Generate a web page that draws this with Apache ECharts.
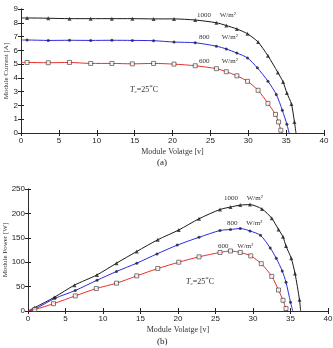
<!DOCTYPE html>
<html>
<head>
<meta charset="utf-8">
<script src="https://cdn.jsdelivr.net/npm/echarts@6/dist/echarts.min.js"></script>
<style>
  html, body { margin: 0; padding: 0; background: #fff; }
  #chart { width: 333px; height: 348px; }
</style>
</head>
<body>
<div id="chart"></div>
<script>
// (a) I-V curves, markers
const vI1000 = [0.8, 3.6, 6.4, 9.2, 12, 14.7, 17.5, 20.2, 23, 25.8, 27.1, 28.5, 29.9, 31.3, 32.6, 33.9, 34.6, 35.1, 35.7, 36.1]
const i1000 = [8.35, 8.33, 8.3, 8.3, 8.3, 8.3, 8.28, 8.28, 8.2, 8.0, 7.8, 7.55, 7.2, 6.6, 5.6, 4.4, 3.7, 2.9, 2.1, 0.8]
const vI800 = [0.8, 3.6, 6.4, 9.2, 12, 14.7, 17.5, 20.2, 23, 25.8, 27.1, 28.5, 29.9, 31.2, 32.6, 33.7, 34.5, 35.1]
const i800 = [6.75, 6.72, 6.73, 6.72, 6.73, 6.72, 6.7, 6.6, 6.55, 6.3, 6.1, 5.8, 5.45, 4.73, 3.76, 2.8, 1.65, 0.63]
const vI600 = [0.8, 3.6, 6.4, 9.2, 12, 14.7, 17.5, 20.2, 23, 25.8, 27.1, 28.5, 29.9, 31.3, 32.6, 33.6, 34.0, 34.3]
const i600 = [5.12, 5.1, 5.12, 5.05, 5.05, 5.02, 5.05, 5.0, 4.88, 4.67, 4.45, 4.15, 3.75, 3.1, 2.15, 1.35, 0.8, 0.2]
const isc = [8.35, 6.75, 5.12]
const voc = [36.3, 35.4, 34.5]

// (b) P-V curves
const vP1000 = [0.9, 3.5, 6.2, 9.2, 11.8, 14.5, 17.3, 20.1, 22.8, 25.6, 27, 28.3, 29.6, 31.2, 32.5, 33.4, 34, 34.4, 35.1, 35.6, 36.2]
const p1000 = [7, 28, 53, 74, 98, 122, 146, 166, 189, 208, 213, 217, 218, 209, 190, 167, 152, 133, 108, 77, 23]
const vP800 = [0.9, 3.6, 6.3, 9.2, 11.8, 14.5, 17.2, 19.9, 22.8, 25.6, 27, 28.3, 29.6, 31, 32.3, 33.1, 33.9, 34.4, 35]
const p800 = [4, 26, 42, 63, 81, 98, 117, 135, 151, 165, 167, 169, 164, 155, 129, 108, 82, 59, 18]
const vP600 = [0.9, 3.4, 6.3, 9.1, 11.8, 14.5, 17.3, 20.1, 22.8, 25.6, 27, 28.3, 29.7, 31.1, 32.5, 33.4, 34, 34.4]
const p600 = [3, 15, 31, 46, 57, 72, 87, 100, 111, 120, 123, 120, 113, 97, 71, 43, 22, 5]
const vocP = [36.35, 35.3, 34.6]

const labels = ['1000', '800', '600']

const colors = ['#1a1a1a', '#2a2ae6', '#e8302c']
const symbols = ['triangle', 'circle', 'rect']
const serif = 'Liberation Serif'

const pairs = (xs, ys) => xs.map((x, k) => [x, ys[k]])

function curve (grid, xs, ys, start, end, k) {
  const pts = pairs(xs, ys)
  return [
    {
      type: 'line',
      xAxisIndex: grid * 2,
      yAxisIndex: grid * 2,
      data: [start].concat(pts).concat([end]),
      showSymbol: false,
      smooth: 0.25,
      lineStyle: { color: colors[k], width: 1 },
      silent: true,
      z: 2
    },
    {
      type: 'scatter',
      xAxisIndex: grid * 2,
      yAxisIndex: grid * 2,
      data: pts,
      symbol: symbols[k],
      symbolSize: k === 1 ? 3 : 4,
      itemStyle: k === 2
        ? { color: '#fff', borderColor: '#333', borderWidth: 0.8 }
        : { color: '#222' },
      z: 3
    }
  ]
}

function xAxes (grid) {
  const base = {
    type: 'value', gridIndex: grid, min: 0, max: 40, interval: 5,
    splitLine: { show: false },
    axisLine: { lineStyle: { color: '#222', width: 0.8 } },
    axisTick: { inside: true, length: 3, lineStyle: { color: '#222' } }
  }
  return [
    Object.assign({}, base, {
      name: 'Module Volatge [v]', nameLocation: 'middle', nameGap: 15, nameMoveOverlap: false,
      nameTextStyle: { fontFamily: serif, fontSize: 8, color: '#333' },
      axisLabel: { fontSize: 8, color: '#222', margin: 4 }
    }),
    Object.assign({}, base, { position: 'top', axisLabel: { show: false } })
  ]
}

function yAxes (grid, max, interval, name, gap) {
  const base = {
    type: 'value', gridIndex: grid, min: 0, max: max, interval: interval,
    splitLine: { show: false },
    axisLine: { show: true, lineStyle: { color: '#222', width: 0.8 } },
    axisTick: { inside: true, length: 3, lineStyle: { color: '#222' } }
  }
  return [
    Object.assign({}, base, {
      name: name, nameLocation: 'middle', nameGap: gap, nameMoveOverlap: false,
      nameTextStyle: { fontFamily: serif, fontSize: 7, color: '#333' },
      axisLabel: { fontSize: 8, color: '#222', margin: 3 }
    }),
    Object.assign({}, base, { position: 'right', axisLabel: { show: false } })
  ]
}

function note (x, y, text) {
  return {
    type: 'text', left: x, top: y,
    style: { text: text, fontFamily: serif, fontSize: 7, fill: '#333' }
  }
}

function tempNote (x, y) {
  return {
    type: 'text', left: x, top: y,
    style: {
      text: '{t|T}{s|c}{n|=25}{d|*}{n|C}',
      rich: {
        t: { fontFamily: serif, fontSize: 8, fontStyle: 'italic', fill: '#333' },
        s: { fontFamily: serif, fontSize: 5, fontStyle: 'italic', fill: '#333', padding: [5, 0, 0, 0] },
        n: { fontFamily: serif, fontSize: 8, fill: '#333' },
        d: { fontFamily: serif, fontSize: 7, fill: '#333', padding: [0, 0, 4, 0] }
      }
    }
  }
}

let series = []
series = series.concat(curve(0, vI1000, i1000, [0, isc[0]], [voc[0], 0], 0))
series = series.concat(curve(0, vI800, i800, [0, isc[1]], [voc[1], 0], 1))
series = series.concat(curve(0, vI600, i600, [0, isc[2]], [voc[2], 0], 2))
series = series.concat(curve(1, vP1000, p1000, [0, 0], [vocP[0], 0], 0))
series = series.concat(curve(1, vP800, p800, [0, 0], [vocP[1], 0], 1))
series = series.concat(curve(1, vP600, p600, [0, 0], [vocP[2], 0], 2))

const option = {
  animation: false,
  backgroundColor: '#fff',
  textStyle: { fontFamily: 'Liberation Sans' },
  grid: [
    { left: 21, right: 9, top: 9, height: 124, containLabel: false, outerBoundsMode: 'none' },
    { left: 28, right: 5, top: 189, height: 122, containLabel: false, outerBoundsMode: 'none' }
  ],
  xAxis: xAxes(0).concat(xAxes(1)),
  yAxis: yAxes(0, 9, 1, 'Module Current [A]', 11).concat(yAxes(1, 250, 50, 'Module Power [W]', 19)),
  series: series,
  graphic: [
    note(197, 12, labels[0] + '     W/m²'),
    note(199, 34, labels[1] + '       W/m²'),
    note(199, 58, labels[2] + '       W/m²'),
    tempNote(130, 84),
    note(224, 195, labels[0] + '     W/m²'),
    note(227, 220, labels[1] + '     W/m²'),
    note(218, 243, labels[2] + '     W/m²'),
    tempNote(186, 276),
    {
      type: 'text', left: 157, top: 158,
      style: { text: '(a)', fontFamily: serif, fontSize: 9, fill: '#222' }
    },
    {
      type: 'text', left: 157, top: 337,
      style: { text: '(b)', fontFamily: serif, fontSize: 9, fill: '#222' }
    }
  ]
}

const chart = echarts.init(document.getElementById('chart'))
chart.setOption(option)
</script>
</body>
</html>
